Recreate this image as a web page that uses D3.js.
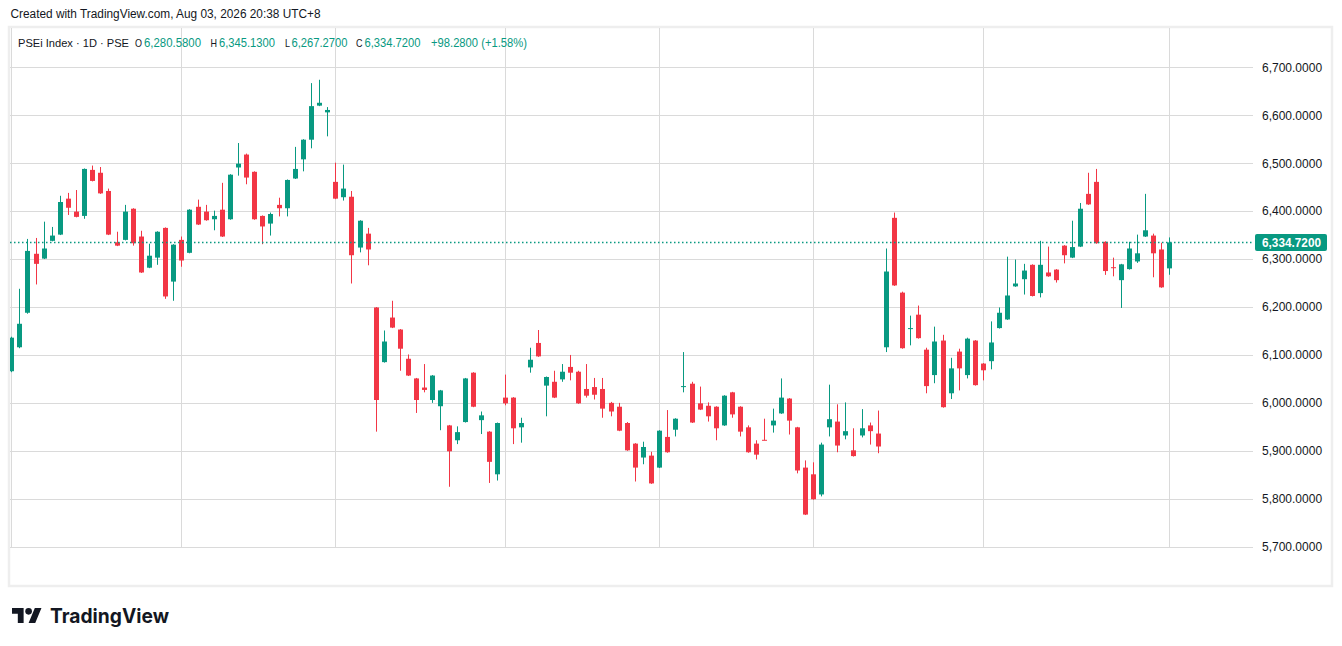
<!DOCTYPE html>
<html>
<head>
<meta charset="utf-8">
<script src="https://cdn.jsdelivr.net/npm/d3@7/dist/d3.min.js"></script>
<style>
  html, body { margin: 0; padding: 0; background: #ffffff; }
  svg { display: block; }
  text { font-family: "Liberation Sans", Arial, sans-serif; }
</style>
</head>
<body>
<svg id="chart" width="1342" height="646"></svg>
<script>
// ---- Data (PSEi Index, daily, Jan 2 2026 – Aug 3 2026, by trading-day index) ----
const openVals = [
  6066,6116,6188,6311,6301,6338,6351,6426,6399,6390,6486,6480,6442,6335,6340,6405,6347,6282,6303,6365,6253,
  6340,6313,6409,6399,6383,6403,6383,6491,6518,6482,6390,6374,6413,6406,6468,6508,6549,6620,6606,
  6461,6429,6430,6324,6353,6199,6085,6178,6153,6092,6051,6032,6006,5993,5953,5922,5960,6063,5964,5940,5851,
  6011,6011,5949,6074,6125,6036,6044,6049,6075,6065,6029,6033,6029,6000,5992,5958,5915,5886,5890,
  5865,5929,5944,6033,6040,5999,5994,5992,5953,6022,5992,5949,5915,5923,5953,5978,6009,5949,5865,
  5851,5809,5949,5961,5932,5901,5932,5953,5936,6116,6386,6230,6154,6184,6111,6058,6130,6020,6107,6058,6130,
  6082,6087,6156,6174,6243,6258,6288,6229,6272,6278,6328,6303,6326,6436,6461,6336,6283,6256,6279,6295,6347,6349,6320,
  6280.58
];
const highVals = [
  6138,6238,6342,6344,6378,6367,6432,6438,6444,6489,6495,6492,6447,6357,6413,6406,6359,6332,6358,6366,6331,
  6347,6404,6424,6413,6401,6459,6477,6542,6520,6483,6391,6397,6428,6466,6534,6550,6667,6674,6617,
  6501,6497,6442,6381,6365,6200,6151,6213,6154,6101,6052,6081,6058,6027,5954,5951,6052,6064,5982,5941,5959,
  6059,6012,5969,6115,6152,6055,6067,6081,6100,6067,6081,6052,6052,6002,6000,5960,5916,5919,5898,
  5943,5985,5968,6106,6044,6034,6001,5993,6016,6023,5993,5953,5922,5967,5988,6051,6010,5950,5880,
  5876,5917,6038,5997,6001,5947,5987,5959,5984,6322,6397,6232,6182,6203,6115,6159,6142,6094,6113,6136,6131,
  6083,6170,6199,6305,6299,6290,6289,6338,6326,6279,6329,6380,6417,6480,6488,6337,6303,6290,6336,6351,6436,6353,6334,
  6345.13
];
const lowVals = [
  6064,6114,6186,6247,6300,6337,6350,6392,6387,6384,6462,6436,6350,6327,6339,6328,6271,6281,6288,6217,6213,
  6284,6312,6371,6380,6360,6346,6382,6474,6456,6382,6331,6349,6389,6389,6467,6483,6531,6619,6556,
  6425,6422,6249,6314,6287,5940,6084,6156,6067,6056,5979,6022,6000,5943,5825,5914,5959,5991,5935,5833,5838,
  5995,5914,5917,6063,6096,5972,6010,6044,6047,5998,6011,6007,5969,5972,5941,5900,5836,5872,5831,
  5864,5896,5930,6022,5958,5985,5961,5922,5952,5969,5930,5896,5882,5922,5938,5977,5934,5853,5766,
  5798,5805,5930,5897,5924,5888,5928,5913,5895,6106,6244,6113,6120,6134,6020,6041,5990,6008,6026,6051,6036,
  6047,6070,6155,6173,6242,6226,6222,6220,6263,6251,6291,6302,6325,6413,6332,6267,6264,6198,6278,6292,6346,6262,6240,
  6267.27
];
const closeVals = [
  6136,6165,6317,6290,6322,6349,6419,6407,6388,6488,6463,6437,6351,6328,6399,6333,6272,6307,6357,6222,6330,
  6297,6403,6372,6381,6390,6347,6476,6499,6470,6383,6368,6394,6406,6465,6488,6549,6619,6626,6611,
  6426,6447,6308,6380,6320,6006,6128,6157,6113,6057,6006,6027,6057,6026,5899,5939,6051,5992,5974,5877,5958,
  5999,5947,5958,6090,6097,6054,6011,6065,6063,5999,6015,6017,5988,5982,5942,5901,5865,5908,5832,
  5942,5897,5967,6035,5959,5986,5972,5947,6015,5976,5940,5897,5892,5922,5963,6011,5963,5859,5767,
  5799,5913,5966,5911,5941,5889,5947,5941,5909,6274,6245,6114,6156,6135,6035,6128,5991,6072,6072,6134,6037,
  6068,6126,6188,6224,6249,6276,6223,6288,6264,6256,6308,6325,6405,6414,6333,6275,6282,6289,6322,6312,6360,6312,6241,
  6334.72
];
const monthTickIndex = [0, 21, 40, 61, 80, 99, 120, 143];
const monthTickLabels = ["2026", "Feb", "Mar", "Apr", "May", "Jun", "Jul", "Aug"];
const priceTicks = [5700, 5800, 5900, 6000, 6100, 6200, 6300, 6400, 6500, 6600, 6700];
const legendName = "PSEi Index · 1D · PSE";
const lastOHLC = { O: 6280.58, H: 6345.13, L: 6267.27, C: 6334.72 };
const lastChange = 98.28, lastChangePct = 1.58;

// ---- Layout ----
const svg = d3.select("#chart");
const W = 1342, H = 646;
const plotL = 10, plotR = 1253, plotT = 28, plotB = 547;
const UP = "#089981", DOWN = "#F23645", TXT = "#131722", GRID = "#dadada";

const candles = openVals.map((o, i) => ({ i, o, h: highVals[i], l: lowVals[i], c: closeVals[i] }));

const x = d3.scaleLinear().domain([0, candles.length - 1]).range([11.3, 1169.3]);
const y = d3.scaleLinear().domain([5700, 6700]).range([546.7, 67.3]);

svg.append("rect").attr("width", W).attr("height", H).attr("fill", "#fff");

const defs = svg.append("defs");
defs.append("clipPath").attr("id", "plotClip").append("rect")
  .attr("x", plotL).attr("y", plotT).attr("width", plotR - plotL).attr("height", plotB - plotT);
defs.append("clipPath").attr("id", "xaxisClip").append("rect")
  .attr("x", plotL).attr("y", plotB).attr("width", plotR - plotL).attr("height", 40);

// frame
svg.append("rect").attr("x", 9).attr("y", 27).attr("width", 1323).attr("height", 559)
  .attr("fill", "none").attr("stroke", "#eeeeee").attr("stroke-width", 2.5);

// horizontal grid
svg.append("g").selectAll("line").data(priceTicks).join("line")
  .attr("x1", plotL).attr("x2", plotR)
  .attr("y1", d => Math.round(y(d)) + 0.5).attr("y2", d => Math.round(y(d)) + 0.5)
  .attr("stroke", GRID).attr("stroke-width", 1);

// vertical grid
svg.append("g").attr("clip-path", "url(#plotClip)").selectAll("line").data(monthTickIndex).join("line")
  .attr("x1", d => Math.round(x(d)) + 0.5).attr("x2", d => Math.round(x(d)) + 0.5)
  .attr("y1", plotT).attr("y2", plotB)
  .attr("stroke", GRID).attr("stroke-width", 1);

// x axis
const xAxis = d3.axisBottom(x).tickValues(monthTickIndex)
  .tickFormat((d, i) => monthTickLabels[i]).tickSize(10).tickPadding(10);
const gx = svg.append("g").attr("transform", `translate(0.5,${plotB})`)
  .attr("clip-path", "url(#xaxisClip)").call(xAxis);
gx.select(".domain").remove();
gx.selectAll(".tick line").attr("stroke", GRID);
gx.selectAll(".tick text").attr("fill", TXT).style("font-size", "12px")
  .style("font-family", '"Liberation Sans", Arial, sans-serif');
gx.selectAll(".tick").attr("transform", d => `translate(${Math.round(x(d))},0)`);

// y axis (right)
const fmt = d3.format(",.4f");
const yAxis = d3.axisRight(y).tickValues(priceTicks).tickFormat(fmt).tickSize(0).tickPadding(9);
const gy = svg.append("g").attr("transform", `translate(${plotR},0)`).call(yAxis);
gy.select(".domain").remove();
gy.selectAll(".tick text").attr("fill", TXT).style("font-size", "12px")
  .style("font-family", '"Liberation Sans", Arial, sans-serif');

// candles
const gc = svg.append("g").attr("clip-path", "url(#plotClip)");
const cg = gc.selectAll("g.candle").data(candles).join("g").attr("class", "candle");
cg.append("line")
  .attr("x1", d => Math.round(x(d.i)) + 0.5).attr("x2", d => Math.round(x(d.i)) + 0.5)
  .attr("y1", d => y(d.h)).attr("y2", d => y(d.l))
  .attr("stroke", d => d.c >= d.o ? UP : DOWN).attr("stroke-width", 1);
cg.append("rect")
  .attr("x", d => Math.round(x(d.i)) - 2)
  .attr("width", 5)
  .attr("y", d => y(Math.max(d.o, d.c)))
  .attr("height", d => Math.max(1, Math.abs(y(d.o) - y(d.c))))
  .attr("fill", d => d.c >= d.o ? UP : DOWN);

// last price line
const lastC = closeVals[closeVals.length - 1];
const ly = Math.round(y(lastC)) + 0.5;
svg.append("line").attr("x1", plotL).attr("x2", plotR).attr("y1", ly).attr("y2", ly)
  .attr("stroke", UP).attr("stroke-width", 1.5).attr("stroke-dasharray", "1.5,2.5");
svg.append("rect").attr("x", 1255).attr("y", ly - 8.5).attr("width", 72).attr("height", 17)
  .attr("rx", 2).attr("fill", UP);
svg.append("text").attr("x", 1262).attr("y", ly + 4.5).attr("fill", "#fff")
  .style("font-size", "12px").style("font-weight", "bold").attr("textLength", 59)
  .attr("lengthAdjust", "spacingAndGlyphs").text(fmt(lastC));

// header
svg.append("text").attr("x", 10.5).attr("y", 18).attr("fill", TXT).style("font-size", "12px")
  .attr("textLength", 310).attr("lengthAdjust", "spacingAndGlyphs")
  .text("Created with TradingView.com, Aug 03, 2026 20:38 UTC+8");

// legend: one text element, parts positioned as tspans
const legY = 46.5;
const legParts = [
  { t: legendName, x: 18, w: 111, c: TXT, fs: 11.5 },
  { t: "O", x: 135, w: 7, c: TXT, fs: 11.5 },
  { t: fmt(lastOHLC.O), x: 144, w: 57, c: UP, fs: 12 },
  { t: "H", x: 210.5, w: 6.5, c: TXT, fs: 11.5 },
  { t: fmt(lastOHLC.H), x: 219, w: 56, c: UP, fs: 12 },
  { t: "L", x: 285, w: 5, c: TXT, fs: 11.5 },
  { t: fmt(lastOHLC.L), x: 291.5, w: 56, c: UP, fs: 12 },
  { t: "C", x: 356, w: 6.5, c: TXT, fs: 11.5 },
  { t: fmt(lastOHLC.C), x: 364.5, w: 56, c: UP, fs: 12 },
  { t: `+${d3.format(".4f")(lastChange)} (+${d3.format(".2f")(lastChangePct)}%)`, x: 431, w: 96, c: UP, fs: 12 }
];
const legText = svg.append("text").attr("y", legY);
legParts.forEach(p => {
  legText.append("tspan").attr("x", p.x).attr("y", legY).attr("fill", p.c)
    .style("font-size", p.fs + "px")
    .attr("textLength", p.w).attr("lengthAdjust", "spacingAndGlyphs").text(p.t);
});

// TradingView logo
const s = 0.83;
const logo = svg.append("g").attr("transform", `translate(12,${608 - 4 * s}) scale(${s})`).attr("fill", TXT);
logo.append("path").attr("d", "M14 22H7V11H0V4h14v18zM28 22h-8l7.5-18h8L28 22z");
logo.append("circle").attr("cx", 20).attr("cy", 8).attr("r", 4);
svg.append("text").attr("x", 50).attr("y", 622.5).attr("fill", TXT)
  .style("font-family", "Inter, Roboto, sans-serif").style("font-weight", "700").style("font-size", "19.5px")
  .attr("textLength", 119).attr("lengthAdjust", "spacingAndGlyphs").text("TradingView");
</script>
</body>
</html>
